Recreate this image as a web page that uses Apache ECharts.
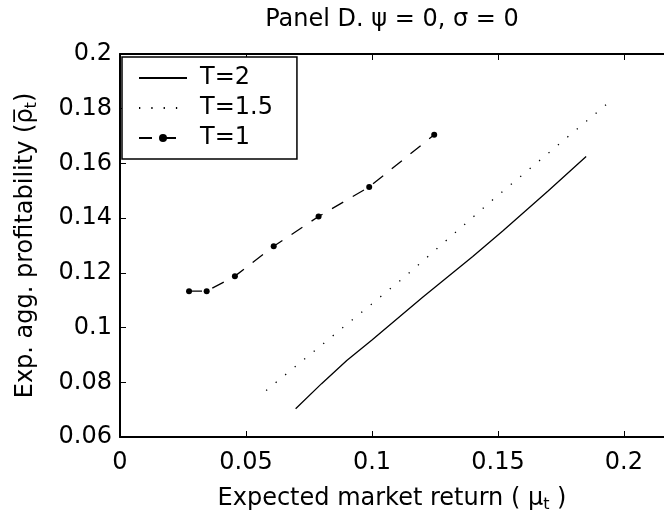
<!DOCTYPE html>
<html><head><meta charset="utf-8">
<script src="https://cdn.jsdelivr.net/npm/echarts@6/dist/echarts.min.js"></script>
<style>html,body{margin:0;padding:0;background:#fff}#c{width:664px;height:518px}</style>
</head><body><div id="c"></div>
<script>
const FONT = 'DejaVu Sans';
const xTicks = [0, 0.05, 0.1, 0.15, 0.2];
const yTicks = [0.06, 0.08, 0.1, 0.12, 0.14, 0.16, 0.18, 0.2];
const seriesNames = ['T=2', 'T=1.5', 'T=1'];
// T=2 (solid)
const t2X = [0.0697, 0.0800, 0.0900, 0.1000, 0.1200, 0.1400, 0.1520, 0.1700, 0.1850];
const t2Y = [0.0703, 0.0795, 0.0880, 0.0955, 0.1110, 0.1260, 0.1354, 0.1500, 0.1625];
// T=1.5 (dotted)
const t15X = [0.0580, 0.1123, 0.1483, 0.1936];
const t15Y = [0.0770, 0.1180, 0.1470, 0.1820];
// T=1 (dashed with dots)
const t1X = [0.0274, 0.0344, 0.0456, 0.0610, 0.0788, 0.0989, 0.1247];
const t1Y = [0.1133, 0.1133, 0.1188, 0.1297, 0.1406, 0.1514, 0.1705];

const pair = (xs, ys) => xs.map((x, i) => [x, ys[i]]);
const fmt = v => String(+(+v).toFixed(2));
const rich = {
  n: {fontFamily: FONT, fontSize: 24, color: '#000', lineHeight: 28},
  s: {fontFamily: FONT, fontSize: 16, color: '#000', lineHeight: 12, verticalAlign: 'bottom'}
};
const axLine = {show: true, onZero: false, lineStyle: {color: '#000', width: 2}};
const tick = {show: true, inside: true, length: 6, lineStyle: {color: '#000', width: 1}};

const chart = echarts.init(document.getElementById('c'));
chart.setOption({
  animation: false,
  backgroundColor: '#fff',
  graphic: [{
    type: 'text', x: 392, y: 20,
    style: {text: 'Panel D. ψ = 0, σ = 0', fontFamily: FONT, fontSize: 24, fill: '#000', align: 'center', verticalAlign: 'middle'}
  }],
  grid: {left: 120, right: 0, top: 54, bottom: 79, containLabel: false},
  legend: {
    orient: 'vertical', left: 122, top: 57,
    itemWidth: 48, itemHeight: 10, itemGap: 6,
    padding: [9, 24, 9, 16],
    borderColor: '#000', borderWidth: 1.5, backgroundColor: '#fff',
    textStyle: {fontFamily: FONT, fontSize: 24, color: '#000', padding: [0, 0, 0, 8]},
    data: [
      {name: seriesNames[0], itemStyle: {opacity: 0}},
      {name: seriesNames[1], itemStyle: {opacity: 0}},
      seriesNames[2]
    ]
  },
  xAxis: [{
    type: 'value', min: 0, max: 0.2159, position: 'bottom',
    axisLine: axLine, axisTick: Object.assign({customValues: xTicks}, tick),
    axisLabel: {customValues: xTicks, formatter: fmt, margin: 14, fontFamily: FONT, fontSize: 24, color: '#000'},
    splitLine: {show: false},
    name: '{n|Expected market return ( μ}{s|t}{n| )}', nameLocation: 'middle', nameGap: 48,
    nameTextStyle: {fontFamily: FONT, fontSize: 24, color: '#000', rich: rich}
  }, {
    type: 'value', min: 0, max: 0.2159, position: 'top',
    axisLine: axLine, axisTick: Object.assign({customValues: xTicks}, tick),
    axisLabel: {show: false}, splitLine: {show: false}
  }],
  yAxis: [{
    type: 'value', min: 0.06, max: 0.2, interval: 0.02, position: 'left',
    axisLine: axLine, axisTick: tick,
    axisLabel: {formatter: fmt, margin: 8, fontFamily: FONT, fontSize: 24, color: '#000'},
    splitLine: {show: false},
    name: '{n|Exp. agg. profitability (ρ\u0305}{s|t}{n|)}', nameLocation: 'middle', nameGap: 80, nameRotate: 90,
    nameTextStyle: {fontFamily: FONT, fontSize: 24, color: '#000', rich: rich}
  }],
  series: [{
    name: 'T=2', type: 'line', data: pair(t2X, t2Y), symbol: 'none',
    lineStyle: {color: '#000', width: 1.3}, itemStyle: {color: '#000'}
  }, {
    name: 'T=1.5', type: 'line', data: pair(t15X, t15Y), symbol: 'none',
    lineStyle: {color: '#000', width: 1.3, type: [1.3, 11]}, itemStyle: {color: '#000'}
  }, {
    name: 'T=1', type: 'line', data: pair(t1X, t1Y), symbol: 'circle', symbolSize: 6,
    lineStyle: {color: '#000', width: 1.3, type: [13, 11]}, itemStyle: {color: '#000'}
  }]
});
</script></body></html>
